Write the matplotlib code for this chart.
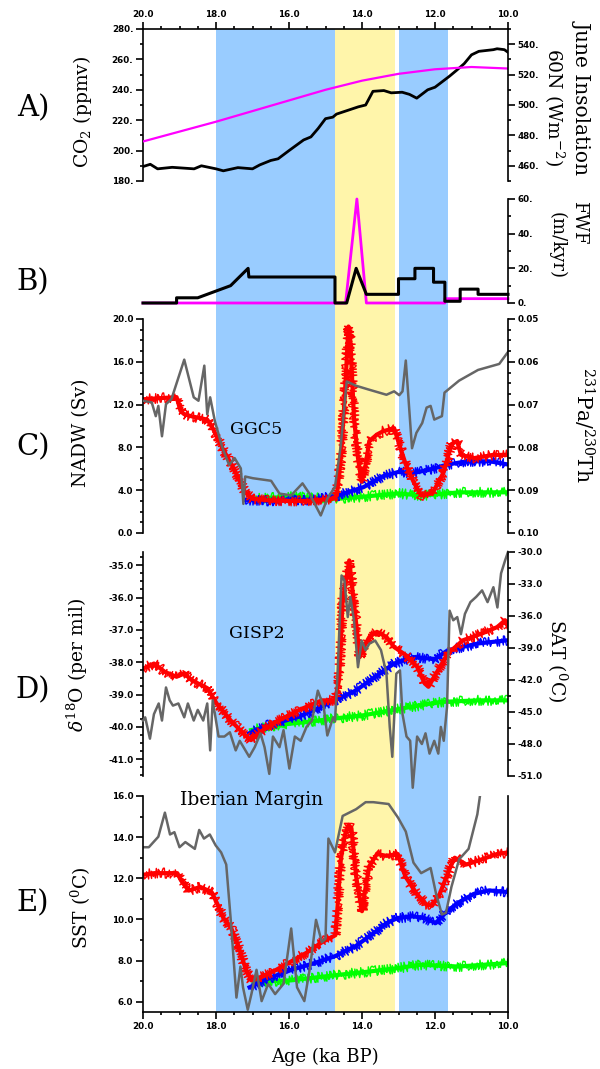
import numpy as np
import matplotlib
matplotlib.use("Agg")
import matplotlib.pyplot as plt
from matplotlib.ticker import MultipleLocator, FormatStrFormatter

plt.rcParams["mathtext.fontset"] = "dejavuserif"

W, H = 600, 1069

# ---- shading (ka BP)
blue_bands = [(18.0, 14.74), (13.0, 11.65)]
yellow_bands = [(14.74, 13.1)]

# ---- A) CO2 and June insolation 60N
co2_age = [20.0, 19.8, 19.6, 19.2, 18.6, 18.4, 18.0, 17.8, 17.4, 17.0, 16.8, 16.5, 16.3, 16.0,
           15.6, 15.4, 15.2, 15.0, 14.8, 14.7, 14.4, 14.1, 13.9, 13.7, 13.4, 13.2, 12.9, 12.7,
           12.5, 12.2, 12.0, 11.6, 11.4, 11.2, 11.0, 10.8, 10.4, 10.3, 10.1, 10.0]
co2_ppmv = [189.5, 191, 188, 189, 188, 190, 188, 186.7, 188.8, 188, 190.6, 193.5, 194.6, 200,
            207, 209, 214.6, 221, 222, 224, 226.4, 228.8, 230, 239, 239.5, 238, 238.4, 237,
            234.5, 240, 241.7, 249, 253, 257.2, 263, 265.3, 266.4, 267, 266.4, 264.7]
ins_age = [20, 19, 18, 17, 16, 15, 14, 13, 12, 11, 10]
ins_wm2 = [476, 482.5, 489, 496, 503, 510, 516, 520.5, 523.5, 525, 524]

# ---- B) freshwater forcing
fwf1_age = [20.0, 19.08, 19.08, 18.5, 17.6, 17.12, 17.1, 14.74, 14.74, 14.42, 14.16, 13.88,
            13.0, 13.0, 12.55, 12.55, 12.04, 12.04, 11.73, 11.73, 11.31, 11.31, 10.82, 10.82, 10.0]
fwf1_val = [0, 0, 3, 3, 10, 20, 15, 15, 0, 0, 20, 5,
            5, 14, 14, 20, 20, 12, 12, 1, 1, 8, 8, 5, 5]
fwf2_age = [20.0, 14.45, 14.14, 13.88, 11.73, 11.73, 10.0]
fwf2_val = [0, 0, 60, 0, 0, 2.5, 2.5]

# ---- C) NADW and Pa/Th
nadw_red_age = [20.0, 19.08, 18.97, 18.87, 18.66, 18.24, 18.09, 17.82, 17.51, 17.2, 17.0, 16.57,
                15.94, 15.52, 14.8, 14.69, 14.58, 14.48, 14.37, 14.32, 14.22, 14.11, 14.01,
                13.9, 13.8, 13.59, 13.43, 13.12, 13.01, 12.8, 12.59, 12.38, 12.07, 11.76,
                11.55, 11.39, 11.29, 10.92, 10.4, 10.0]
nadw_red = [12.5, 12.7, 11.4, 11.1, 10.9, 10.6, 9.8, 7.9, 6.0, 3.8, 3.2, 3.05,
            3.0, 3.0, 3.2, 3.5, 7.0, 12.3, 19.3, 18.0, 10.8, 7.0, 4.8,
            6.4, 8.6, 9.2, 9.5, 9.8, 8.6, 6.4, 4.8, 3.5, 3.7, 5.7,
            8.3, 8.6, 7.3, 7.0, 7.3, 7.3]
nadw_blue_age = [17.2, 16.5, 15.5, 14.74, 14.48, 13.95, 13.43, 13.01, 12.59, 12.07, 11.65, 11.13, 10.5, 10.0]
nadw_blue = [3.1, 3.0, 3.1, 3.4, 3.7, 4.3, 5.3, 5.7, 5.6, 6.0, 6.4, 6.7, 6.7, 6.4]
nadw_green_age = [17.0, 15.94, 14.74, 13.95, 13.01, 12.38, 11.34, 10.0]
nadw_green = [3.2, 3.4, 3.2, 3.4, 3.7, 3.5, 3.8, 3.8]
path_age = [20.0, 19.76, 19.65, 19.58, 19.48, 19.37, 19.22, 18.87, 18.61, 18.48, 18.32, 18.24,
            18.16, 18.03, 17.82, 17.64, 17.49, 17.32, 17.25, 17.2, 16.99, 16.49, 16.26, 15.94,
            15.63, 15.44, 15.13, 14.95, 14.74, 14.58, 14.42, 14.16, 13.85, 13.33, 13.12, 12.98,
            12.89, 12.8, 12.63, 12.51, 12.35, 12.23, 12.12, 12.02, 11.81, 11.74, 11.34, 10.82,
            10.24, 10.0]
path_ratio = [0.0691, 0.0695, 0.0727, 0.0703, 0.0774, 0.0699, 0.0687, 0.0595, 0.0683, 0.0691,
              0.0609, 0.0723, 0.0683, 0.0739, 0.0802, 0.0841, 0.0825, 0.0849, 0.0932, 0.0868,
              0.0872, 0.0878, 0.0908, 0.0912, 0.0884, 0.0908, 0.0959, 0.0920, 0.0892, 0.0794,
              0.0646, 0.0656, 0.0664, 0.0677, 0.0669, 0.0678, 0.0669, 0.0597, 0.0802, 0.0766,
              0.0743, 0.0707, 0.0703, 0.0735, 0.0727, 0.0672, 0.0644, 0.0619, 0.0605, 0.0577]

# ---- D) Greenland d18O and SAT
d18o_red_age = [20.0, 19.7, 19.4, 19.08, 18.87, 18.66, 18.24, 17.98, 17.6, 17.2, 17.04, 16.78,
                16.36, 15.73, 15.1, 14.74, 14.63, 14.53, 14.42, 14.35, 14.27, 14.16, 14.06,
                13.95, 13.8, 13.59, 13.33, 13.12, 12.8, 12.49, 12.28, 12.18, 11.97, 11.65,
                11.23, 10.71, 10.29, 10.08, 10.0]
d18o_red = [-38.2, -38.04, -38.3, -38.45, -38.35, -38.56, -38.8, -39.28, -39.8, -40.26, -40.41,
            -40.15, -39.85, -39.48, -39.18, -39.18, -38.56, -36.08, -35.36, -34.85, -35.67,
            -36.8, -37.84, -37.53, -37.22, -37.06, -37.22, -37.53, -37.78, -38.14, -38.66,
            -38.76, -38.35, -37.73, -37.32, -37.11, -36.91, -36.7, -36.91]
d18o_blue_age = [17.09, 16.57, 15.73, 14.74, 14.16, 13.64, 13.12, 12.59, 12.0, 11.65, 10.82, 10.0]
d18o_blue = [-40.2, -39.95, -39.69, -39.18, -38.87, -38.45, -38.04, -37.84, -37.9, -37.63, -37.42, -37.32]
d18o_green_age = [17.04, 16.36, 15.52, 14.74, 13.95, 12.91, 11.86, 10.82, 10.0]
d18o_green = [-40.1, -39.95, -39.85, -39.74, -39.64, -39.43, -39.23, -39.18, -39.18]
sat_age = [20.0, 19.94, 19.81, 19.7, 19.57, 19.48, 19.37, 19.27, 19.18, 19.03, 18.87, 18.77,
           18.61, 18.5, 18.35, 18.24, 18.16, 18.09, 17.93, 17.77, 17.62, 17.46, 17.35, 17.09,
           16.94, 16.78, 16.67, 16.54, 16.44, 16.26, 16.15, 15.99, 15.84, 15.68, 15.52, 15.37,
           15.21, 15.05, 14.95, 14.79, 14.74, 14.67, 14.56, 14.48, 14.39, 14.32, 14.22, 14.11,
           14.01, 13.9, 13.8, 13.64, 13.48, 13.33, 13.24, 13.17, 13.06, 12.96, 12.89, 12.78,
           12.68, 12.61, 12.49, 12.36, 12.26, 12.15, 12.02, 11.91, 11.84, 11.76, 11.67, 11.6,
           11.5, 11.39, 11.29, 11.18, 11.03, 10.87, 10.71, 10.56, 10.4, 10.29, 10.19, 10.08, 10.0]
sat_degc = [-45.8, -45.5, -47.5, -45.2, -44.2, -45.8, -42.7, -43.9, -44.4, -44.2, -45.5, -44.2,
            -45.8, -44.8, -45.8, -44.2, -48.6, -43.9, -47.3, -47.3, -46.9, -48.6, -47.7, -49.2,
            -48.3, -47.0, -48.3, -50.8, -47.3, -48.3, -46.7, -50.3, -47.3, -47.7, -46.4, -45.8,
            -43.0, -44.5, -47.2, -45.5, -45.9, -41.4, -32.2, -32.7, -36.1, -34.2, -36.4, -40.8,
            -38.3, -39.2, -38.6, -38.3, -39.2, -41.4, -46.4, -49.2, -41.4, -41.1, -45.2, -47.3,
            -47.7, -52.1, -47.3, -48.0, -47.0, -48.9, -47.7, -48.9, -46.4, -47.7, -44.5, -35.5,
            -36.4, -36.1, -37.7, -35.8, -34.7, -34.2, -33.6, -34.7, -33.3, -35.2, -32.0, -30.8, -30.0]

# ---- E) Iberian Margin SST
sst_red_age = [20.0, 19.69, 19.06, 18.96, 18.75, 18.43, 18.12, 17.96, 17.8, 17.6, 17.39, 17.18,
               17.03, 16.77, 16.35, 15.93, 15.51, 15.1, 14.73, 14.68, 14.58, 14.47, 14.37, 14.29,
               14.16, 14.0, 13.9, 13.8, 13.59, 13.33, 13.02, 12.81, 12.5, 12.24, 12.08, 11.87,
               11.61, 11.46, 11.14, 10.72, 10.3, 10.0]
sst_red = [12.17, 12.25, 12.25, 11.9, 11.4, 11.58, 11.33, 10.74, 10.07, 9.65, 8.72, 7.55,
           7.04, 7.2, 7.55, 7.97, 8.39, 8.89, 9.23, 10.4, 12.92, 14.1, 14.6, 14.44,
           12.08, 10.4, 11.58, 12.59, 13.18, 13.09, 13.18, 12.08, 11.24, 10.74, 10.66, 11.24,
           12.42, 13.0, 12.67, 12.92, 13.18, 13.26]
sst_blue_age = [17.08, 16.56, 15.93, 15.3, 14.73, 14.16, 13.63, 13.33, 13.02, 12.6, 12.29, 11.98,
                11.67, 11.36, 10.94, 10.52, 10.0]
sst_blue = [6.7, 7.13, 7.55, 7.88, 8.22, 8.72, 9.4, 9.82, 10.07, 10.15, 10.07, 9.82,
            10.4, 10.82, 11.24, 11.41, 11.33]
sst_green_age = [16.97, 15.93, 14.73, 13.84, 13.02, 12.4, 11.36, 10.0]
sst_green = [6.96, 7.04, 7.29, 7.46, 7.63, 7.8, 7.71, 7.88]
sst_obs_age = [20.0, 19.84, 19.58, 19.4, 19.26, 19.14, 19.0, 18.84, 18.58, 18.46, 18.33, 18.17,
               18.01, 17.86, 17.72, 17.6, 17.44, 17.33, 17.26, 17.13, 17.03, 16.89, 16.75, 16.57,
               16.38, 16.15, 15.94, 15.78, 15.58, 15.42, 15.26, 15.1, 15.0, 14.92, 14.74, 14.53,
               14.16, 13.9, 13.69, 13.27, 13.01, 12.8, 12.59, 12.38, 12.12, 11.97, 11.81, 11.7,
               11.55, 11.34, 11.08, 10.84, 10.72]
sst_obs = [13.51, 13.51, 14.02, 15.19, 14.13, 14.24, 13.51, 13.76, 13.43, 14.35, 13.93, 14.13,
           13.6, 13.26, 12.67, 10.07, 6.2, 7.71, 6.7, 5.61, 6.37, 7.55, 6.03, 6.87,
           6.37, 6.87, 9.56, 6.7, 6.03, 7.71, 9.98, 8.89, 9.06, 13.93, 13.26, 15.03,
           15.36, 15.7, 15.7, 15.61, 14.94, 14.27, 12.76, 12.25, 12.5, 11.24, 10.24, 10.32,
           11.58, 12.92, 13.43, 15.11, 16.6]

XL, XR = 143, 508
tick_font = dict(family="DejaVu Sans", weight="bold", size=6.3)
serif = "DejaVu Serif"
noisy = (5.0, 2.0, 3.0)


def rect(top, bottom):
    return [XL / W, 1 - bottom / H, (XR - XL) / W, (bottom - top) / H]


def style_y(ax, major, minor, fmt):
    ax.yaxis.set_major_locator(MultipleLocator(major))
    ax.yaxis.set_minor_locator(MultipleLocator(minor))
    ax.yaxis.set_major_formatter(FormatStrFormatter(fmt))
    ax.tick_params(axis="y", which="major", direction="out", length=5, width=1.2, pad=2)
    ax.tick_params(axis="y", which="minor", direction="out", length=2.5, width=1.2)
    for lab in ax.get_yticklabels():
        lab.set(**tick_font)


def base(ax):
    ax.set_facecolor("none")
    ax.set_xlim(20, 10)
    for s in ax.spines.values():
        s.set_linewidth(1.2)
        s.set_visible(False)
    ax.tick_params(axis="x", which="both", bottom=False, top=False, labelbottom=False, labeltop=False)


def style_x(ax, where):
    ax.xaxis.set_major_locator(MultipleLocator(2))
    ax.xaxis.set_minor_locator(MultipleLocator(0.5))
    ax.xaxis.set_major_formatter(FormatStrFormatter("%.1f"))
    if where == "top":
        ax.tick_params(axis="x", which="both", top=True, labeltop=True, direction="out", width=1.2)
    else:
        ax.tick_params(axis="x", which="both", bottom=True, labelbottom=True, direction="out", width=1.2)
    ax.tick_params(axis="x", which="major", length=5, pad=2)
    ax.tick_params(axis="x", which="minor", length=2.5)
    for lab in ax.get_xticklabels():
        lab.set(**tick_font)


def noisy_plot(ax, x, y, color):
    # solid core plus a jagged stroke to mimic the noisy model output
    ax.plot(x, y, color=color, lw=3.0)
    line, = ax.plot(x, y, color=color, lw=1.0)
    line.set_sketch_params(*noisy)
    return line


fig = plt.figure(figsize=(W / 100, H / 100), dpi=100)

# background shading across all panels
bg = fig.add_axes(rect(29, 1012))
bg.set_xlim(20, 10)
bg.axis("off")
for a, b in blue_bands:
    bg.axvspan(a, b, color="#99ccff", lw=0)
for a, b in yellow_bands:
    bg.axvspan(a, b, color="#fff5aa", lw=0)

# A
axA = fig.add_axes(rect(29, 181))
base(axA)
axA.spines["left"].set_visible(True)
axA.spines["top"].set_visible(True)
axA.plot(co2_age, co2_ppmv, color="black", lw=2.0)
axA.set_ylim(180, 280)
style_y(axA, 20, 10, "%d.")
style_x(axA, "top")
axA2 = axA.twinx()
base(axA2)
axA2.spines["right"].set_visible(True)
axA2.plot(ins_age, ins_wm2, color="magenta", lw=1.6)
axA2.set_ylim(450, 550)
style_y(axA2, 20, 10, "%d.")

# B
axB = fig.add_axes(rect(199, 303))
base(axB)
axB.yaxis.tick_right()
axB.spines["right"].set_visible(True)
axB.plot(fwf2_age, fwf2_val, color="magenta", lw=2.0, clip_on=False)
axB.plot(fwf1_age, fwf1_val, color="black", lw=2.2, clip_on=False)
axB.set_ylim(0, 60)
style_y(axB, 20, 10, "%d.")
axB.tick_params(axis="y", left=False, labelleft=False)

# C
axC = fig.add_axes(rect(319, 533))
base(axC)
axC.spines["left"].set_visible(True)
noisy_plot(axC, nadw_green_age, nadw_green, "#00ff00")
noisy_plot(axC, nadw_blue_age, nadw_blue, "#0000ff")
noisy_plot(axC, nadw_red_age, nadw_red, "#ff0000")
axC.set_ylim(0, 20)
style_y(axC, 4, 1, "%.1f")
axC.text(17.62, 9.7, "GGC5", family=serif, fontsize=12.5, va="center", ha="left")
axC2 = axC.twinx()
base(axC2)
axC2.spines["right"].set_visible(True)
axC2.plot(path_age, path_ratio, color="#666666", lw=1.8)
axC2.set_ylim(0.10, 0.05)
style_y(axC2, 0.01, 0.0025, "%.2f")

# D
axD = fig.add_axes(rect(552, 776))
base(axD)
axD.spines["left"].set_visible(True)
noisy_plot(axD, d18o_green_age, d18o_green, "#00ff00")
noisy_plot(axD, d18o_blue_age, d18o_blue, "#0000ff")
noisy_plot(axD, d18o_red_age, d18o_red, "#ff0000")
axD.set_ylim(-41.52, -34.59)
style_y(axD, 1, 0.25, "%.1f")
axD.text(17.65, -37.1, "GISP2", family=serif, fontsize=12.5, va="center", ha="left")
axD2 = axD.twinx()
base(axD2)
axD2.spines["right"].set_visible(True)
axD2.plot(sat_age, sat_degc, color="#666666", lw=1.8, clip_on=False)
axD2.set_ylim(-51, -30)
style_y(axD2, 3, 1.5, "%.1f")

# E
axE = fig.add_axes(rect(796, 1012))
base(axE)
axE.spines["left"].set_visible(True)
axE.spines["right"].set_visible(True)
axE.spines["bottom"].set_visible(True)
noisy_plot(axE, sst_green_age, sst_green, "#00ff00")
noisy_plot(axE, sst_blue_age, sst_blue, "#0000ff")
noisy_plot(axE, sst_red_age, sst_red, "#ff0000")
axE.plot(sst_obs_age, sst_obs, color="#666666", lw=1.8)
axE.set_ylim(5.5, 16)
style_y(axE, 2, 1, "%.1f")
style_x(axE, "bottom")
axE.tick_params(axis="y", right=False)
axE.text(19.0, 15.8, "Iberian Margin", family=serif, fontsize=13.5, va="center", ha="left")


def ftext(x, y, s, **kw):
    fig.text(x / W, 1 - y / H, s, ha="center", va="center", family=serif, **kw)


ftext(33, 108, "A)", fontsize=21)
ftext(33, 282, "B)", fontsize=21)
ftext(33, 447, "C)", fontsize=21)
ftext(33, 690, "D)", fontsize=21)
ftext(33, 903, "E)", fontsize=21)

ftext(83, 112, "CO$_2$ (ppmv)", fontsize=13.5, rotation=90)
ftext(81, 433, "NADW (Sv)", fontsize=13.5, rotation=90)
ftext(77, 665, "$\\delta^{18}$O (per mil)", fontsize=13.5, rotation=90)
ftext(81, 908, "SST ($^0$C)", fontsize=13.5, rotation=90)

ftext(582, 97, "June Insolation", fontsize=14.5, rotation=270)
ftext(554, 107, "60N (Wm$^{-2}$)", fontsize=13.5, rotation=270)
ftext(579, 223, "FWF", fontsize=13, rotation=270)
ftext(557, 245, "(m/kyr)", fontsize=13, rotation=270)
ftext(584, 425, "$^{231}$Pa/$^{230}$Th", fontsize=14.5, rotation=270)
ftext(557, 661, "SAT ($^0$C)", fontsize=13.5, rotation=270)
ftext(325, 1057, "Age (ka BP)", fontsize=13)

fig.savefig("out.png", dpi=100)
